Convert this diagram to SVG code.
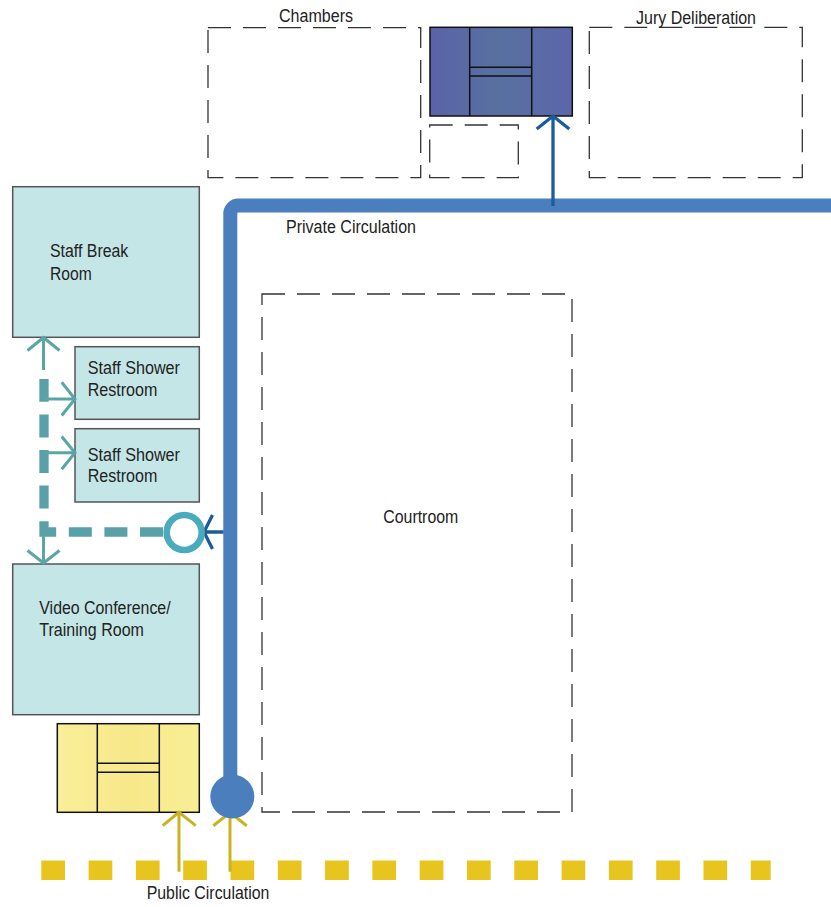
<svg xmlns="http://www.w3.org/2000/svg" width="831" height="907" viewBox="0 0 831 907">
<style>
text{font-family:"Liberation Sans",Arial,sans-serif;font-size:17.5px;fill:#222}
.dash{fill:none;stroke:#333;stroke-width:1.3;stroke-dasharray:23 12}
.room{fill:#c4e6e6;stroke:#555;stroke-width:1.5}
.ln{stroke:#111;stroke-width:1.5;fill:none}
.teal{fill:none;stroke:#5aa5a5;stroke-width:3}
.dk{fill:none;stroke:#1a5c9c;stroke-width:3.3}
.yl{fill:none;stroke:#c8b420;stroke-width:3}
</style>
<defs>
<linearGradient id="gb" x1="0" x2="1" y1="0" y2="0">
<stop offset="0" stop-color="#5b63a8"/><stop offset="0.5" stop-color="#5870a0"/><stop offset="1" stop-color="#5c66aa"/>
</linearGradient>
<linearGradient id="gy" x1="0" x2="1" y1="0" y2="0">
<stop offset="0" stop-color="#f9ee9a"/><stop offset="0.5" stop-color="#f7e98a"/><stop offset="1" stop-color="#f9ee95"/>
</linearGradient>
</defs>

<g id="chambers">
<rect class="dash" x="208" y="27.7" width="212.7" height="150"/>
<text x="279" y="21.7" textLength="74" lengthAdjust="spacingAndGlyphs">Chambers</text>
</g>
<g id="chambers-small">
<rect class="dash" x="429.7" y="125" width="88.6" height="52.7"/>
</g>
<g id="jury-deliberation">
<rect class="dash" x="589.3" y="27.3" width="213" height="150.4"/>
<text x="636" y="23.5" textLength="120" lengthAdjust="spacingAndGlyphs">Jury Deliberation</text>
</g>
<g id="private-elevator">
<rect x="430" y="27.3" width="142.3" height="88.7" fill="url(#gb)" stroke="#111" stroke-width="1.5"/>
<path class="ln" d="M469.7 27.3V116M531.7 27.3V116M469.7 67.3H531.7M469.7 76H531.7"/>
</g>
<g id="courtroom">
<rect class="dash" x="262" y="294" width="310" height="518"/>
<text x="383.3" y="522.7" textLength="75" lengthAdjust="spacingAndGlyphs">Courtroom</text>
</g>
<g id="staff-break-room">
<rect class="room" x="12.7" y="186.7" width="186.6" height="150.6"/>
<text x="50" y="257.3" textLength="78.3" lengthAdjust="spacingAndGlyphs">Staff Break</text>
<text x="50" y="280" textLength="41.7" lengthAdjust="spacingAndGlyphs">Room</text>
</g>
<g id="staff-shower-1">
<rect class="room" x="75" y="346.7" width="124.3" height="72.6"/>
<text x="87.7" y="374.3" textLength="92.3" lengthAdjust="spacingAndGlyphs">Staff Shower</text>
<text x="87.7" y="396" textLength="69.7" lengthAdjust="spacingAndGlyphs">Restroom</text>
</g>
<g id="staff-shower-2">
<rect class="room" x="75" y="428.7" width="124.3" height="73.3"/>
<text x="87.7" y="460.7" textLength="92.3" lengthAdjust="spacingAndGlyphs">Staff Shower</text>
<text x="87.7" y="481.7" textLength="69.7" lengthAdjust="spacingAndGlyphs">Restroom</text>
</g>
<g id="video-conference">
<rect class="room" x="12.7" y="564" width="186.6" height="150.7"/>
<text x="39.3" y="614" textLength="131.3" lengthAdjust="spacingAndGlyphs">Video Conference/</text>
<text x="39.3" y="636" textLength="104.7" lengthAdjust="spacingAndGlyphs">Training Room</text>
</g>
<g id="public-elevator">
<rect x="57.3" y="723.7" width="142" height="88.6" fill="url(#gy)" stroke="#111" stroke-width="1.5"/>
<path class="ln" d="M97.3 723.7V812.3M159.3 723.7V812.3M97.3 763.3H159.3M97.3 772.3H159.3"/>
</g>

<g id="connectors">
<!-- public circulation -->
<path d="M41.3 870.2H770.7" fill="none" stroke="#e8c41e" stroke-width="19.6" stroke-dasharray="23.7 23.6"/>
<text x="146.7" y="899.3" textLength="122.7" lengthAdjust="spacingAndGlyphs">Public Circulation</text>
<path class="yl" d="M179 871.7V813M162.7 825.7L179 812.3L195.7 825.7"/>
<path class="yl" d="M230 871.7V815M213.3 825.7L230 812.5L246.7 825.7"/>
<!-- private circulation -->
<path d="M230.3 796V213.5A8 8 0 0 1 238.3 205.5H840" fill="none" stroke="#4a7ebd" stroke-width="14"/>
<circle cx="232.3" cy="796.5" r="22" fill="#4a7ebd"/>
<text x="286" y="233" textLength="130" lengthAdjust="spacingAndGlyphs">Private Circulation</text>
<path class="dk" d="M553 206V117M536.7 129L553 116L569.3 129"/>
<path class="dk" d="M223.5 532H205M212.5 515L204 532L212.5 549"/>
<!-- staff circulation -->
<path d="M163 532H44V379" fill="none" stroke="#5aa0a8" stroke-width="9.3" stroke-dasharray="23 12.6"/>
<path class="teal" d="M43.5 370V338M27.5 350.5L43.5 337.5L59.5 350.5"/>
<path class="teal" d="M44 399H75M61.7 382.3L75 399L61.7 415.5"/>
<path class="teal" d="M44 452.7H75M61.7 436.5L75 452.7L61.7 469.3"/>
<path class="teal" d="M43.5 536V562M27.5 550.5L43.5 563L59.5 550.5"/>
<circle cx="184.2" cy="532.5" r="17.5" fill="#fff" stroke="#4aabbd" stroke-width="6.6"/>
</g>
</svg>
